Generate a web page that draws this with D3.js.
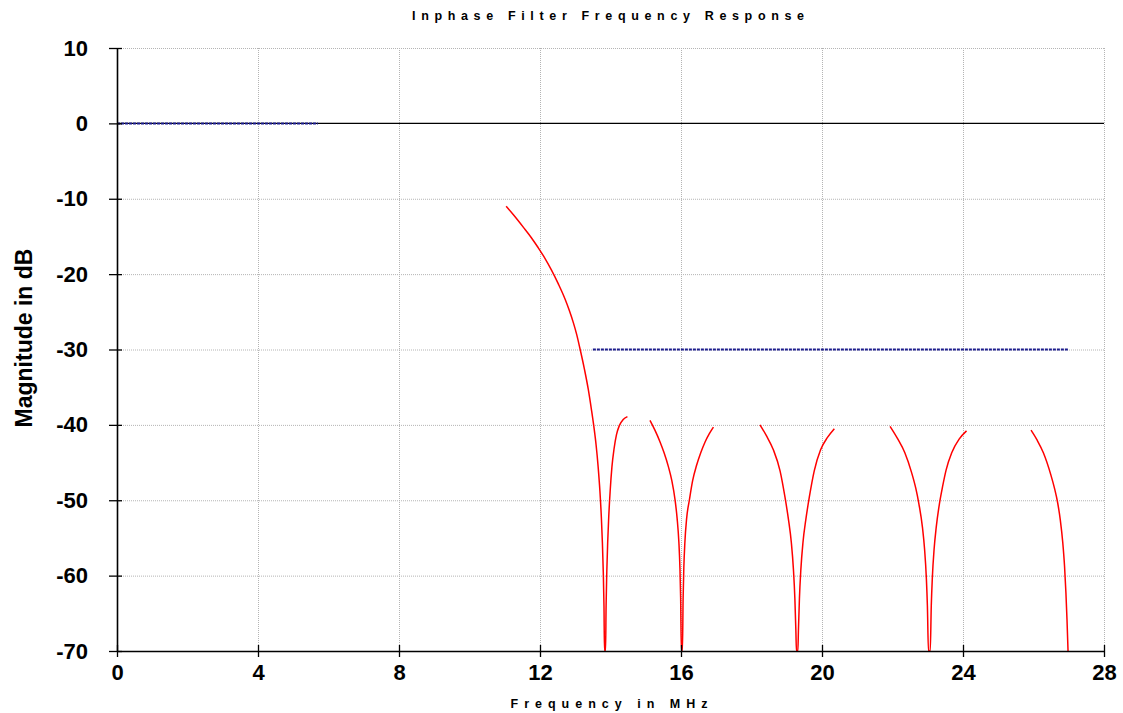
<!DOCTYPE html>
<html>
<head>
<meta charset="utf-8">
<script src="https://cdn.jsdelivr.net/npm/d3@7"></script>
<style>
  html, body { margin: 0; padding: 0; background: #fff; }
  svg { display: block; font-family: "Liberation Sans", Arial, sans-serif; }
</style>
</head>
<body>
<svg id="chart" width="1123" height="713"></svg>
<script>
// Axis ticks
const freqTicks = [0, 4, 8, 12, 16, 20, 24, 28];
const dbTicks = [10, 0, -10, -20, -30, -40, -50, -60, -70];

// Filter magnitude response (MHz, dB); null breaks separate the visible pieces
const responseFreq = [
  11.04, 11.24, 11.53, 11.76, 11.95, 12.14, 12.33, 12.52, 12.71, 12.83, 12.95, 13.04, 13.13,
  13.26, 13.37, 13.46, 13.53, 13.59, 13.65, 13.70, 13.74, 13.77, 13.795, 13.815, 13.83,
  13.86, 13.875, 13.895, 13.92, 13.95, 13.99, 14.04, 14.10, 14.17, 14.25, 14.36, 14.48, null,
  15.12, 15.26, 15.40, 15.52, 15.64, 15.74, 15.83, 15.89, 15.94, 15.97, 15.99, 16.01,
  16.04, 16.06, 16.08, 16.11, 16.16, 16.24, 16.33, 16.44, 16.56, 16.68, 16.80, 16.92, null,
  18.24, 18.43, 18.62, 18.81, 18.95, 19.05, 19.13, 19.19, 19.23, 19.26, 19.275,
  19.315, 19.33, 19.36, 19.40, 19.46, 19.54, 19.64, 19.78, 19.96, 20.15, 20.35, null,
  21.93, 22.14, 22.35, 22.54, 22.66, 22.75, 22.85, 22.91, 22.96, 22.99, 23.02,
  23.07, 23.10, 23.13, 23.18, 23.24, 23.33, 23.42, 23.52, 23.68, 23.89, 24.10, null,
  25.93, 26.10, 26.28, 26.49, 26.60, 26.68, 26.76, 26.83, 26.88, 26.92, 26.95, 26.98
];
const responseDb = [
  -11.0, -12.1, -13.8, -15.2, -16.5, -17.9, -19.5, -21.3, -23.3, -24.8, -26.5, -28.0, -29.8,
  -32.6, -35.3, -38.0, -40.3, -42.6, -45.6, -48.8, -52.2, -55.6, -59.5, -64.0, -70,
  -70, -64.0, -59.5, -55.6, -52.2, -48.8, -45.6, -43.2, -41.3, -40.1, -39.3, -38.9, null,
  -39.4, -40.7, -42.2, -43.7, -45.5, -47.4, -49.9, -52.4, -55.6, -59.0, -63.0, -70,
  -70, -63.0, -59.0, -55.6, -52.4, -49.9, -47.4, -45.4, -43.7, -42.3, -41.2, -40.3, null,
  -40.0, -41.5, -43.3, -46.1, -49.6, -52.6, -55.6, -59.2, -63.0, -67.5, -70,
  -70, -67.5, -63.0, -59.2, -55.6, -52.6, -49.6, -46.1, -43.3, -41.7, -40.5, null,
  -40.2, -41.8, -43.7, -46.3, -48.4, -50.5, -53.6, -56.5, -60.3, -64.0, -70,
  -70, -64.0, -60.3, -56.5, -53.6, -50.5, -48.2, -46.0, -43.7, -41.9, -40.8, null,
  -40.7, -42.0, -43.7, -46.6, -48.5, -50.2, -52.6, -55.6, -58.7, -62.3, -65.8, -70
];

// Specification mask: passband edge and stopband limit
const passbandFreq = [0, 5.7];
const passbandDb = [0, 0];
const stopbandFreq = [13.5, 27];
const stopbandDb = [-30, -30];

const svg = d3.select("#chart");
const x = d3.scaleLinear().domain([0, 28]).range([117, 1104]);
const y = d3.scaleLinear().domain([-70, 10]).range([651, 48]);

const [x0, x1] = x.range();
const [yBottom, yTop] = y.range();

svg.append("defs").append("clipPath").attr("id", "plot-clip")
  .append("rect")
  .attr("x", x0).attr("y", yTop)
  .attr("width", x1 - x0).attr("height", yBottom - yTop + 1);

// Dotted grid
const grid = svg.append("g").attr("stroke", "#b4b4b4").attr("stroke-width", 1)
  .attr("stroke-dasharray", "1,1").attr("fill", "none");
grid.selectAll("line.vg").data(freqTicks.filter(d => d > 0)).join("line")
  .attr("class", "vg")
  .attr("x1", d => x(d) + 0.5).attr("x2", d => x(d) + 0.5)
  .attr("y1", yTop).attr("y2", yBottom);
grid.selectAll("line.hg").data(dbTicks.filter(d => d > -70 && d !== 0)).join("line")
  .attr("class", "hg")
  .attr("x1", x0).attr("x2", x1)
  .attr("y1", d => y(d) + 0.5).attr("y2", d => y(d) + 0.5);

// 0 dB reference line
svg.append("line")
  .attr("x1", x0).attr("x2", x1)
  .attr("y1", y(0)).attr("y2", y(0))
  .attr("stroke", "#000").attr("stroke-width", 1.3);

// Specification lines
const specLine = d3.line().x(d => x(d[0])).y(d => y(d[1]));
[[passbandFreq, passbandDb], [stopbandFreq, stopbandDb]].forEach(([fs, ds]) => {
  svg.append("path")
    .datum(fs.map((f, i) => [f, ds[i]]))
    .attr("d", specLine)
    .attr("fill", "none")
    .attr("stroke", "#1c1c8c")
    .attr("stroke-width", 2)
    .attr("stroke-dasharray", "3,1");
});

// Response curve
const responsePts = responseFreq.map((f, i) => [f, responseDb[i]]);
const responseLine = d3.line()
  .defined(d => d[0] !== null && d[1] !== null)
  .x(d => x(d[0])).y(d => y(d[1]))
  .curve(d3.curveMonotoneX);
svg.append("path")
  .datum(responsePts)
  .attr("clip-path", "url(#plot-clip)")
  .attr("d", responseLine)
  .attr("fill", "none")
  .attr("stroke", "#ff0000")
  .attr("stroke-width", 1.5);

// Axes
const yAxis = svg.append("g")
  .attr("transform", `translate(${x0},0)`)
  .call(d3.axisLeft(y).tickValues(dbTicks).tickSize(8).tickSizeOuter(0)
    .tickPadding(21).tickFormat(d => String(d)));
const xAxis = svg.append("g")
  .attr("transform", `translate(0,${yBottom})`)
  .call(d3.axisBottom(x).tickValues(freqTicks).tickSize(6).tickSizeOuter(0)
    .tickPadding(7).tickFormat(d => String(d)));

yAxis.selectAll(".tick line").attr("x1", 5);
xAxis.selectAll(".tick line").attr("y1", -6);
[yAxis, xAxis].forEach(g => {
  g.select(".domain").attr("stroke", "#000").attr("stroke-width", 1.6);
  g.selectAll(".tick line").attr("stroke", "#000").attr("stroke-width", 1.3);
  g.selectAll(".tick text")
    .attr("fill", "#000")
    .style("font-family", '"Liberation Sans", Arial, sans-serif')
    .style("font-weight", "bold")
    .style("font-size", "22px");
});

// Titles
svg.append("text")
  .attr("x", 608).attr("y", 20)
  .attr("text-anchor", "middle")
  .attr("textLength", 392).attr("lengthAdjust", "spacing")
  .style("font-weight", "bold").style("font-size", "12.5px")
  .text("Inphase Filter Frequency Response");

svg.append("text")
  .attr("x", 609).attr("y", 708)
  .attr("text-anchor", "middle")
  .attr("textLength", 197).attr("lengthAdjust", "spacing")
  .style("font-weight", "bold").style("font-size", "12.5px")
  .text("Frequency in MHz");

svg.append("text")
  .attr("transform", "translate(32,338) rotate(-90)")
  .attr("text-anchor", "middle")
  .style("font-weight", "bold").style("font-size", "23px")
  .text("Magnitude in dB");
</script>
</body>
</html>
